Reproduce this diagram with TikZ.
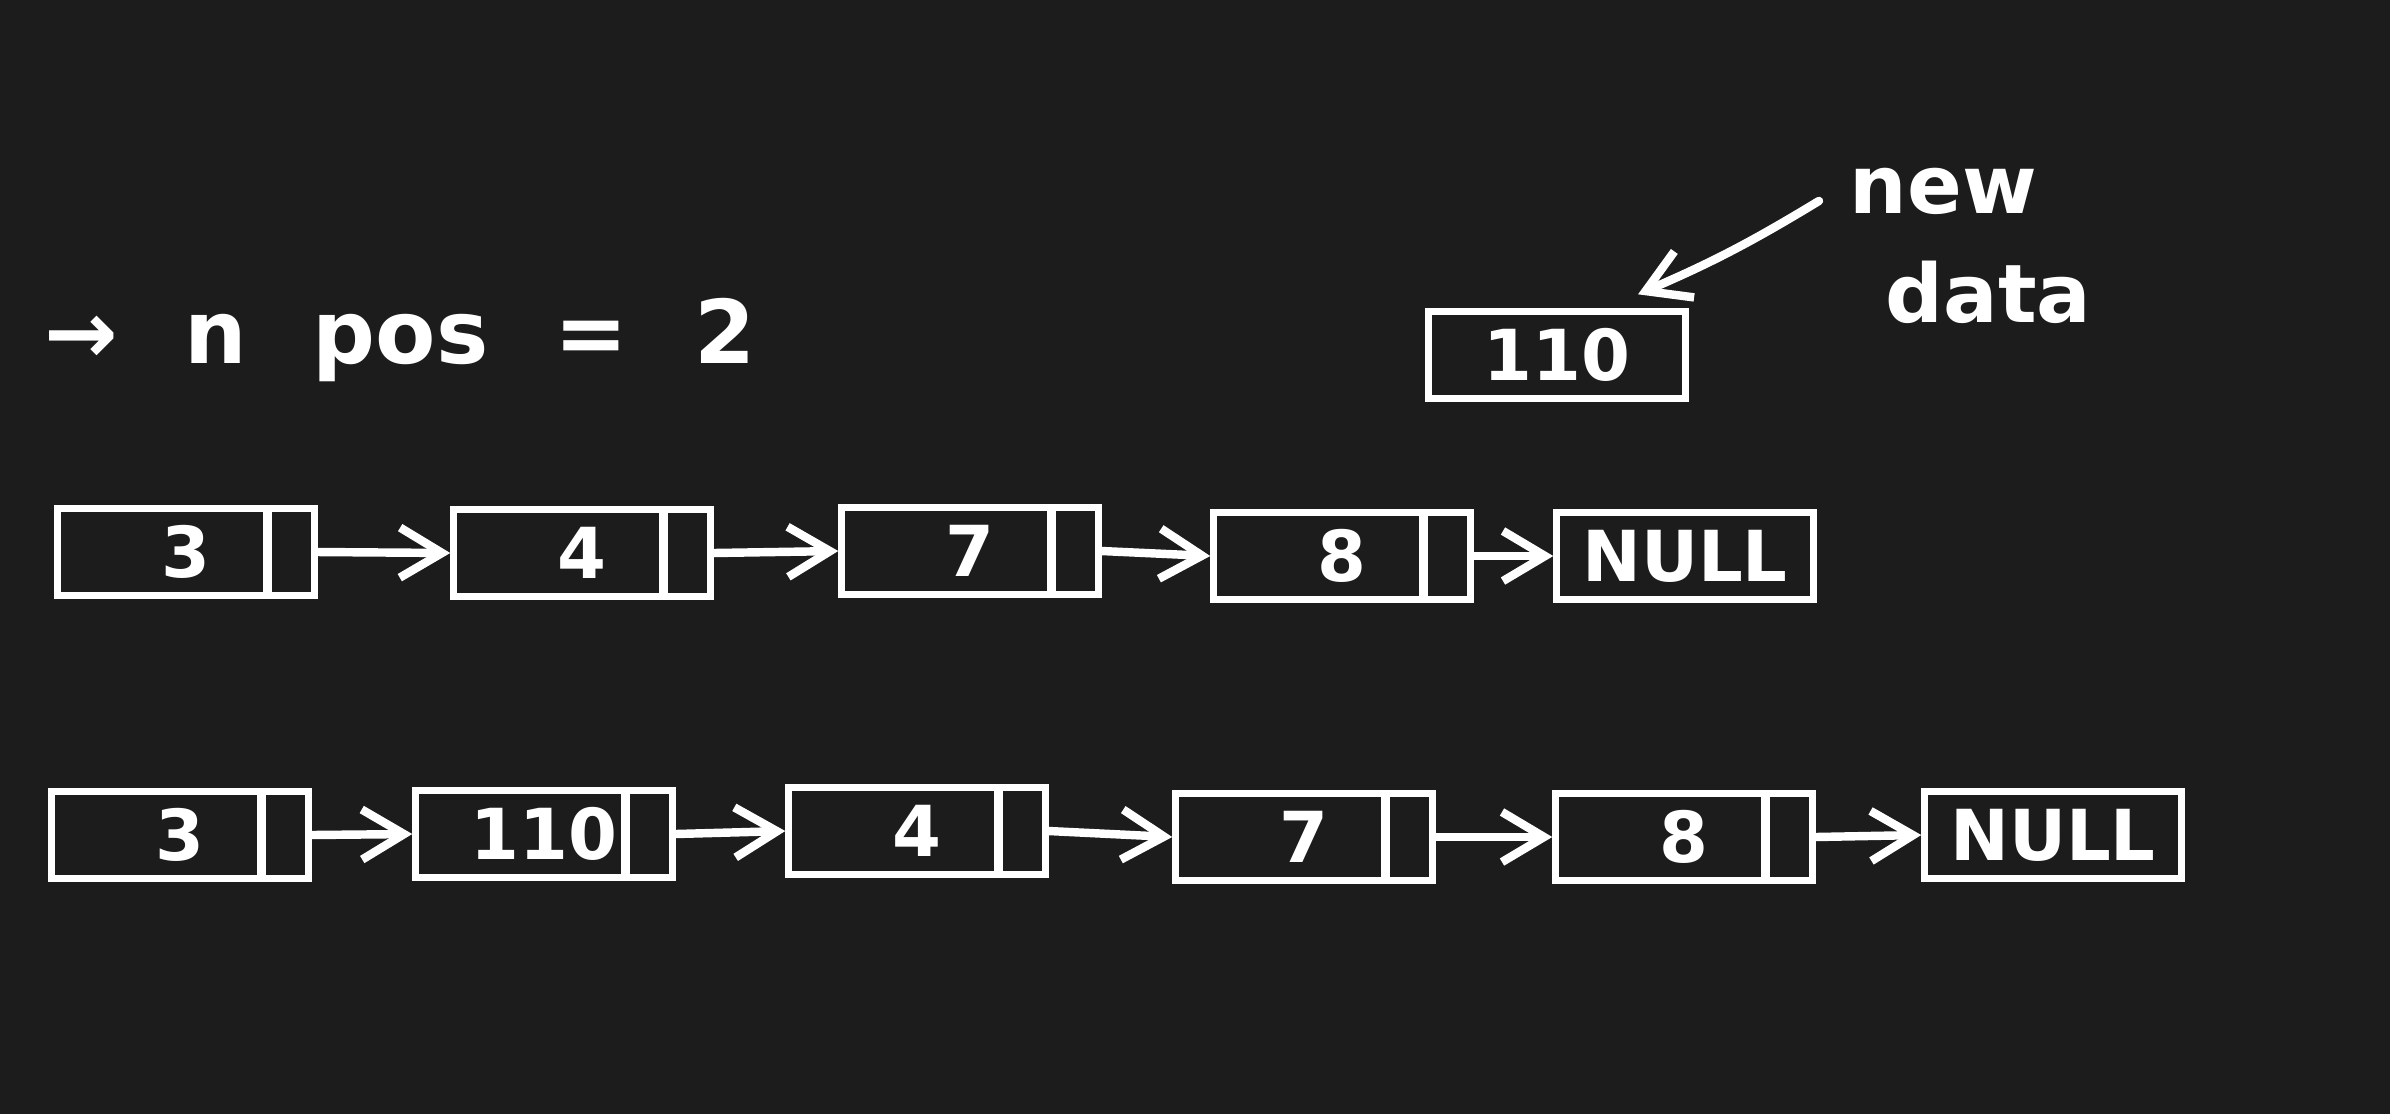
\documentclass[tikz,border=0pt]{standalone}
\usepackage{fontspec}
\setmainfont{DejaVu Sans}
\usetikzlibrary{arrows.meta}
\definecolor{boardbg}{RGB}{28,28,28}

\begin{document}
\begin{tikzpicture}[x=0.01cm, y=-0.01cm,
		box/.style={draw=white, line width=1.8pt, minimum width=2.57cm, minimum height=0.87cm, inner sep=0pt, text=white, font=\fontsize{20}{24}\selectfont\bfseries},
		cell/.style={box, path picture={\draw[white, line width=2.4pt] ([xshift=-0.47cm]path picture bounding box.north east) -- ([xshift=-0.47cm]path picture bounding box.south east);}},
		link/.style={draw=white, line width=2.4pt, line cap=round, -{Straight Barb[length=0.42cm, width=0.5cm]}},
		chalk/.style={text=white, inner sep=0pt, font=\fontsize{23}{28}\selectfont\bfseries}]
		\fill[boardbg] (0,0) rectangle (2390,1114);
		\node[chalk, anchor=base west, font=\fontsize{25}{30}\selectfont\bfseries] (pos) at (44,363) {\spaceskip=0.75em → n pos = 2};
		\node[chalk, anchor=base west] (lblnew) at (1849,213) {new};
		\node[chalk, anchor=base west] (lbldata) at (1885,322) {data};
		\node[box] (nb) at (1557,355) {110};
		\draw[link] ([shift={(-0.3cm,-0.1cm)}]lblnew.west) to[bend left=4] ([shift={(0.81cm,0.14cm)}]nb.north);
		\node[cell] (a1) at (186,552) {3};
		\node[cell] (a2) at (582,553) {4};
		\node[cell] (a3) at (970,551) {7};
		\node[cell] (a4) at (1342,556) {8};
		\node[box] (a5) at (1685,556) {NULL};
		\draw[link] (a1.east) -- (a2.west);
		\draw[link] (a2.east) -- (a3.west);
		\draw[link] (a3.east) -- (a4.west);
		\draw[link] (a4.east) -- (a5.west);
		\node[cell] (b1) at (180,835) {3};
		\node[cell] (b2) at (544,834) {110};
		\node[cell] (b3) at (917,831) {4};
		\node[cell] (b4) at (1304,837) {7};
		\node[cell] (b5) at (1684,837) {8};
		\node[box] (b6) at (2053,835) {NULL};
		\draw[link] (b1.east) -- (b2.west);
		\draw[link] (b2.east) -- (b3.west);
		\draw[link] (b3.east) -- (b4.west);
		\draw[link] (b4.east) -- (b5.west);
		\draw[link] (b5.east) -- (b6.west);
\end{tikzpicture}
\end{document}
